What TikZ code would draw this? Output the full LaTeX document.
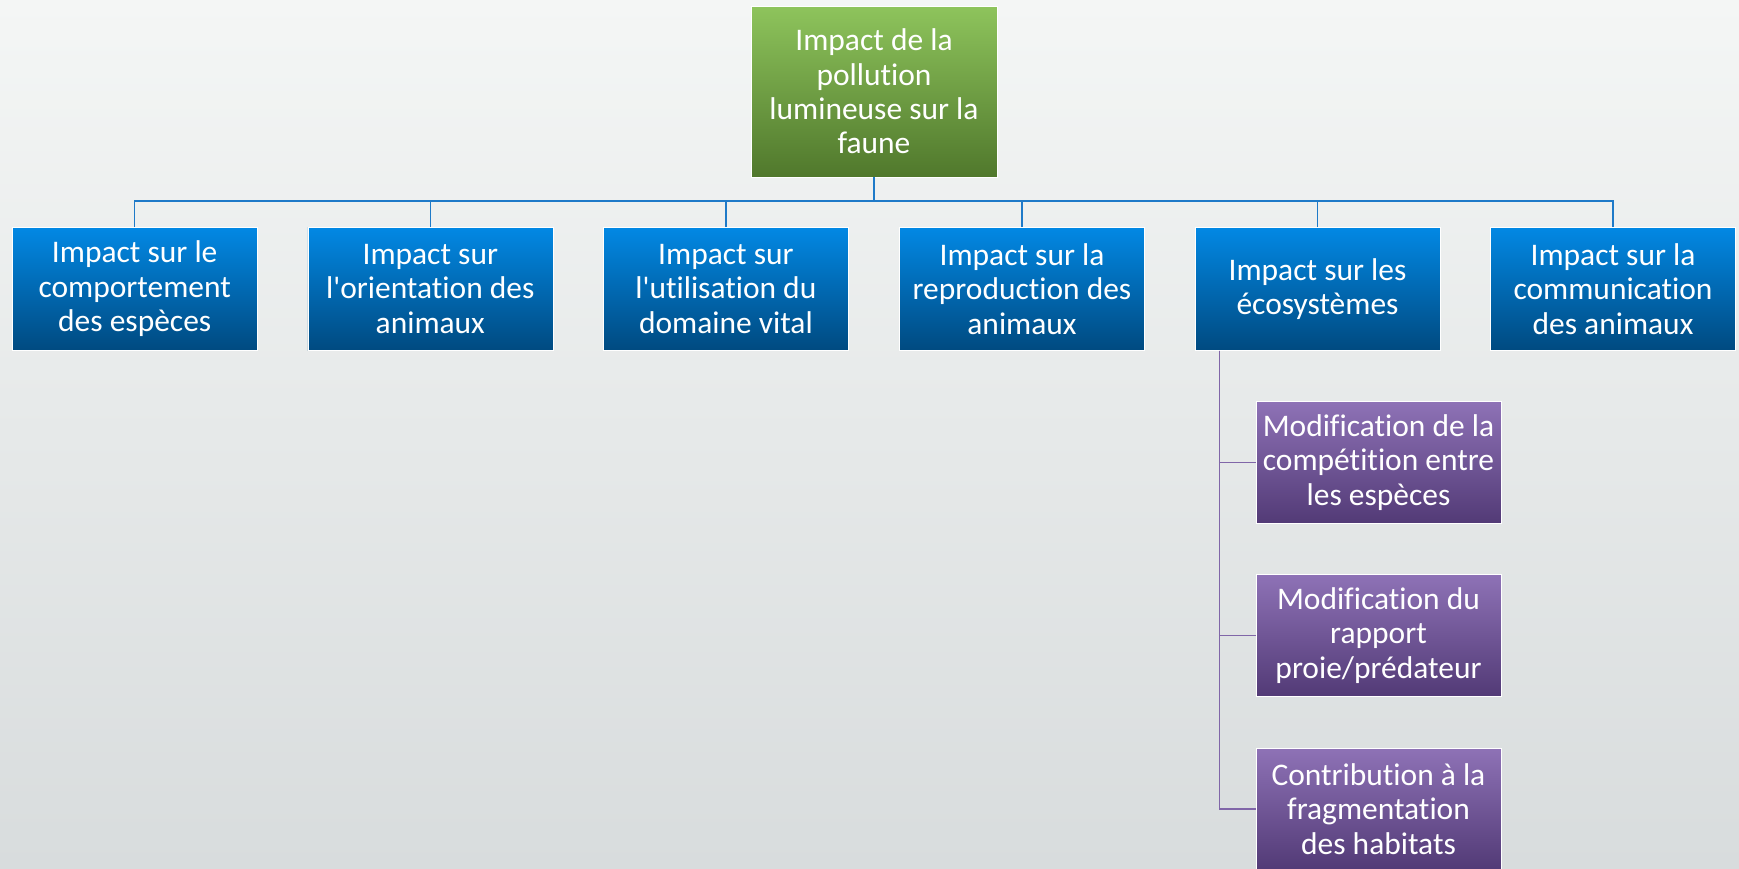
\documentclass[tikz,border=0pt]{standalone}
\usepackage{fontspec}
\setmainfont{Carlito}[Ligatures={NoCommon,NoRare,NoContextual}, RawFeature={-liga;-clig;-dlig;-calt}]
\usepackage{xcolor}
\usepackage{tikz}

\definecolor{bgtop}{RGB}{244,246,245}
\definecolor{bgbot}{RGB}{216,220,221}
\definecolor{greentop}{RGB}{142,196,92}
\definecolor{greenbot}{RGB}{80,120,44}
\definecolor{bluetop}{RGB}{2,136,228}
\definecolor{bluebot}{RGB}{0,74,128}
\definecolor{purpletop}{RGB}{142,114,182}
\definecolor{purplebot}{RGB}{82,58,118}
\definecolor{bluelink}{RGB}{30,122,200}
\definecolor{purplelink}{RGB}{128,102,168}

\tikzset{
  box/.style={draw=white, line width=0.4pt, text=white, align=center,
    inner sep=0pt, minimum width=183.75pt, minimum height=92.25pt,
    font=\fontsize{23.6}{25.8}\selectfont},
  rootbox/.style={box, top color=greentop, bottom color=greenbot,
    minimum width=184.5pt, minimum height=128.25pt},
  impactbox/.style={box, top color=bluetop, bottom color=bluebot},
  modifbox/.style={box, top color=purpletop, bottom color=purplebot,
    minimum height=91.5pt},
  blueline/.style={draw=bluelink, line width=1.1pt},
  purpleline/.style={draw=purplelink, line width=1.1pt}
}

\begin{document}
\begin{tikzpicture}[x=0.75pt,y=0.75pt,yscale=-1,xscale=1]

\useasboundingbox (0,0) rectangle (1739,868);
\clip (0,0) rectangle (1739,868);
\fill [top color=bgtop, bottom color=bgbot] (0,0) rectangle (1739,868);

% racine
\node [rootbox] (root) at (874,91.5) {Impact de la\\pollution\\lumineuse sur la\\faune};

% niveau 2
\node [impactbox] (comport) at (134.7,288.9) {Impact sur le\\comportement\\des espèces};
\node [impactbox] (orient) at (430.3,288.9) {Impact sur\\l\textquotesingle orientation des\\animaux};
\node [impactbox] (domaine) at (725.9,288.9) {Impact sur\\l\textquotesingle utilisation du\\domaine vital};
\node [impactbox] (repro) at (1022,288.9) {Impact sur la\\reproduction des\\animaux};
\node [impactbox] (eco) at (1317.5,288.9) {Impact sur les\\écosystèmes};
\node [impactbox] (comm) at (1613,288.9) {Impact sur la\\communication\\des animaux};

% niveau 3
\node [modifbox] (compet) at (1378.5,462.5) {Modification de la\\compétition entre\\les espèces};
\node [modifbox] (proie) at (1378.5,635.5) {Modification du\\rapport\\proie/prédateur};
\node [modifbox] (frag) at (1378.5,809) {Contribution à la\\fragmentation\\des habitats};

% liens
\foreach \n in {comport,orient,domaine,repro,eco,comm}
  \draw [blueline] (\n.north) -- ++(0,-26) -| (root.south);

\coordinate (ecoleft) at ([xshift=18.4pt]eco.south west);
\foreach \n in {compet,proie,frag}
  \draw [purpleline] (ecoleft) |- (\n.west);

\end{tikzpicture}
\end{document}
